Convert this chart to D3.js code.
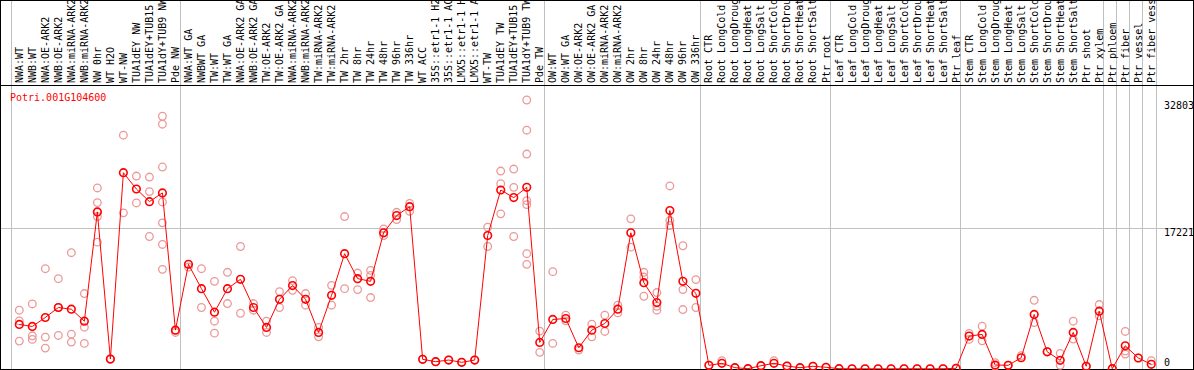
<!DOCTYPE html>
<html>
<head>
<meta charset="utf-8">
<script src="https://cdn.jsdelivr.net/npm/d3@7"></script>
<style>
body { margin: 0; background: #fff; }
text { font-family: "DejaVu Sans Mono", monospace; font-size: 10px; }
</style>
</head>
<body>
<div id="chart"></div>
<script>
var geneName = "Potri.001G104600";

var labels = [
	"NWA:WT", "NWB:WT", "NWA:OE-ARK2", "NWB:OE-ARK2", "NWA:miRNA-ARK2", "NWB:miRNA-ARK2",
	"NW 0hr", "WT H2O", "WT-NW", "TUA1dEY NW", "TUA1dEY+TUB15", "TUA1dY+TUB9 NW", "Pde NW",
	"NWA:WT GA", "NWBWT GA", "TW:WT", "TW:WT GA", "NWA:OE-ARK2 GA", "NWB:OE-ARK2 GA",
	"TW:OE-ARK2", "TW:OE-ARK2 GA", "NWA:miRNA-ARK2", "NWB:miRNA-ARK2", "TW:miRNA-ARK2", "TW:miRNA-ARK2",
	"TW 2hr", "TW 8hr", "TW 24hr", "TW 48hr", "TW 96hr", "TW 336hr", "WT ACC",
	"35S::etr1-1 H2", "35S::etr1-1 AC", "LMX5::etr1-1 H", "LMX5::etr1-1 A",
	"WT-TW", "TUA1dEY TW", "TUA1dEY+TUB15", "TUA1dY+TUB9 TW", "Pde TW",
	"OW:WT", "OW:WT GA", "OW:OE-ARK2", "OW:OE-ARK2 GA", "OW:miRNA-ARK2", "OW:miRNA-ARK2",
	"OW 2hr", "OW 8hr", "OW 24hr", "OW 48hr", "OW 96hr", "OW 336hr",
	"Root CTR", "Root LongCold", "Root LongDroug", "Root LongHeat", "Root LongSalt",
	"Root ShortCold", "Root ShortDrou", "Root ShortHeat", "Root ShortSalt", "Ptr root",
	"Leaf CTR", "Leaf LongCold", "Leaf LongDroug", "Leaf LongHeat", "Leaf LongSalt",
	"Leaf ShortCold", "Leaf ShortDrou", "Leaf ShortHeat", "Leaf ShortSalt", "Ptr leaf",
	"Stem CTR", "Stem LongCold", "Stem LongDroug", "Stem LongHeat", "Stem LongSalt",
	"Stem ShortCold", "Stem ShortDrou", "Stem ShortHeat", "Stem ShortSalt", "Ptr shoot",
	"Ptr xylem", "Ptr phloem", "Ptr fiber", "Ptr vessel", "Ptr fiber vess"
];

// mean expression per sample
var means = [
	5430, 5190, 6280, 7500, 7290, 5830, 19160, 1215, 23935, 21950, 20410, 21470, 4740,
	12760, 9800, 6925, 9800, 10935, 7500, 5070, 8500, 10170, 8500, 4460, 8990,
	14060, 11020, 10690, 16610, 18710, 19800, 1180, 890, 1090, 815, 1090,
	16280, 21830, 20900, 22150, 3240,
	6040, 6160, 2590, 4740, 5550, 7290, 16610, 10530, 8100, 19320, 10690, 9230,
	450, 690, 160, 40, 400, 690, 360, 160, 330, 210,
	40, 20, 20, 20, 20, 30, 30, 20, 30, 85,
	4010, 4220, 490, 450, 1370, 6650, 2100, 1060, 4460, 330,
	7050, 40, 2830, 1340, 570
];

// replicate values per sample
var reps = [
	[7170, 5870, 3400], [7930, 4050, 3610], [12230, 3890, 2550], [11020, 4090, 7500],
	[14180, 4250, 3280], [9200, 5100, 3120], [22080, 20290, 18590, 15470, 19160], [1215, 1215],
	[28510, 19040], [23530, 20250], [23410, 21630, 16160],
	[30820, 29850, 24630, 20370, 17820, 15190, 12150], [4460, 4740],
	[12430], [12230, 7500], [10690, 5830, 4370], [11790, 7980], [14940, 6800], [7980, 7170],
	[5830, 4460], [9440, 7500], [10780, 9600], [9200, 7780], [5070, 3920], [10200, 7780],
	[18590, 9800], [11700, 9680], [12030, 11420, 8710], [17090, 16280], [19110, 18220], [20200, 19230],
	[1180], [890], [1090], [815], [1090],
	[17290, 14940], [24140, 22600, 18920], [24380, 22150, 16160],
	[32803, 29120, 26210, 20530, 20050, 14060, 12760], [4620, 2030],
	[11870, 3120], [6560, 5870], [2310], [5470, 3920], [6560, 4580], [7780, 6840],
	[18310, 14860], [11790, 11210, 8870], [9320, 7650, 7170], [22320, 18100, 17500],
	[15030, 9680, 7250], [10900, 7500],
	[450], [1010], [160], [40], [400], [1010], [360], [160], [330], [210],
	[40], [20], [20], [20], [20], [30], [30], [20], [30], [85],
	[4340, 3610], [5220, 3440], [770, 360], [450], [1620], [8380, 5670], [2100],
	[1910, 450], [5830, 3650], [330],
	[7860, 6480], [40], [4580, 2190, 1820], [1340], [1010]
];

// index where each sample group starts (last entry = end)
var groupStarts = [0, 13, 41, 53, 63, 73, 84, 85, 86, 87, 88];
var yTicks = [0, 17221, 32803];

var width = 1194, height = 370;
var headerY = 86;

var svg = d3.select("#chart").append("svg")
	.attr("width", width)
	.attr("height", height);

var col = d3.scaleLinear().domain([0, labels.length]).range([10.5, 1155.5]);
var x = function(i) { return col(i) + 8.8; };
var y = d3.scaleLinear().domain([0, d3.max(yTicks)]).range([369, 100]);

// vertical group lines
svg.selectAll(".vline")
	.data(groupStarts)
	.enter().append("line")
	.attr("x1", function(d) { return Math.round(col(d)) + 0.5; })
	.attr("x2", function(d) { return Math.round(col(d)) + 0.5; })
	.attr("y1", 0)
	.attr("y2", height)
	.style("stroke", "#c0c0c0");

// middle horizontal grid line
svg.selectAll(".hline")
	.data(yTicks.filter(function(d) { return d > 0 && d < d3.max(yTicks); }))
	.enter().append("line")
	.attr("x1", 0)
	.attr("x2", width)
	.attr("y1", function(d) { return Math.round(y(d)) + 0.5; })
	.attr("y2", function(d) { return Math.round(y(d)) + 0.5; })
	.style("stroke", "#c0c0c0");

// frame + header separator
svg.append("rect")
	.attr("x", 0.5).attr("y", 0.5)
	.attr("width", width - 1).attr("height", height - 1)
	.style("fill", "none")
	.style("stroke", "#000");
svg.append("line")
	.attr("x1", 0).attr("x2", width)
	.attr("y1", headerY - 0.5).attr("y2", headerY - 0.5)
	.style("stroke", "#000");

// sample labels
svg.selectAll(".lbl")
	.data(labels)
	.enter().append("text")
	.attr("transform", function(d, i) { return "translate(" + (x(i) + 3.5) + "," + 83 + ") rotate(-90)"; })
	.style("fill", "#000")
	.text(function(d) { return d; });

// right axis values
svg.selectAll(".tick")
	.data(yTicks)
	.enter().append("text")
	.attr("x", 1164)
	.attr("y", function(d) { return d === 0 ? y(d) - 3.5 : y(d) + 8.5; })
	.style("fill", "#000")
	.text(function(d) { return d; });

svg.append("text")
	.attr("x", 10)
	.attr("y", 100.5)
	.style("fill", "#ff0000")
	.text(geneName);

// replicates
var repPts = [];
reps.forEach(function(r, i) {
	r.forEach(function(v) { repPts.push({ i: i, v: v }); });
});
svg.selectAll(".rep")
	.data(repPts)
	.enter().append("circle")
	.attr("cx", function(d) { return x(d.i); })
	.attr("cy", function(d) { return y(d.v); })
	.attr("r", 3.8)
	.style("fill", "none")
	.style("stroke", "#ec9898")
	.style("stroke-width", 1.3);

var line = d3.line()
	.x(function(d, i) { return x(i); })
	.y(function(d) { return y(d); });

svg.append("path")
	.datum(means)
	.attr("d", line)
	.style("fill", "none")
	.style("stroke", "#ff0000")
	.style("stroke-width", 1);

svg.selectAll(".mean")
	.data(means)
	.enter().append("circle")
	.attr("cx", function(d, i) { return x(i); })
	.attr("cy", function(d) { return y(d); })
	.attr("r", 3.8)
	.style("fill", "none")
	.style("stroke", "#ff0000")
	.style("stroke-width", 1.6);
</script>
</body>
</html>
